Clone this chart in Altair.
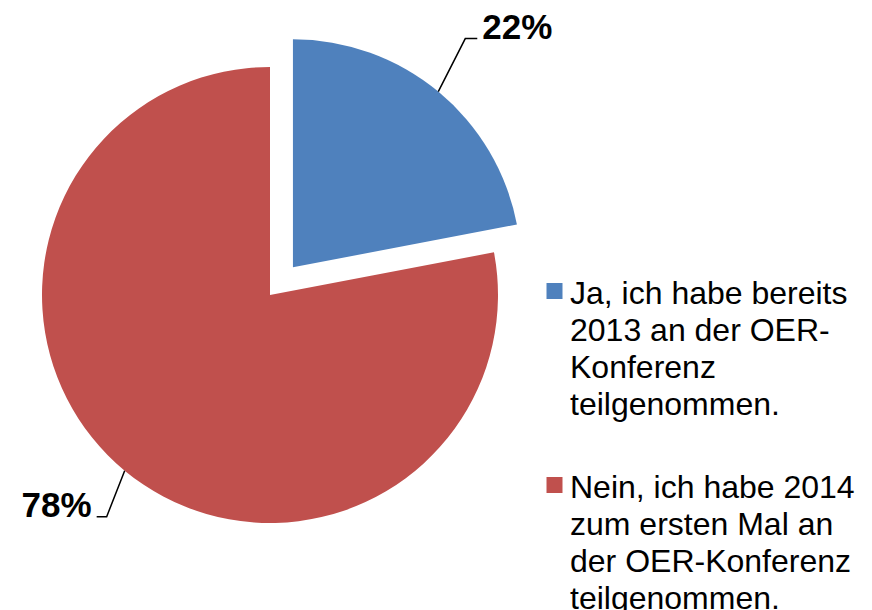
import math
import altair as alt
import pandas as pd

# ---- data ----
categories = ["Ja", "Nein"]
legend_lines = [
    ["Ja, ich habe bereits", "2013 an der OER-", "Konferenz", "teilgenommen."],
    ["Nein, ich habe 2014", "zum ersten Mal an", "der OER-Konferenz", "teilgenommen."],
]
values = [22, 78]
pct_labels = ["22%", "78%"]
colors = ["#4F81BD", "#C0504D"]

# ---- layout ----
W, H = 856, 602
CX, CY = 262, 287
R = 228
EXPLODE = [36, 0]
ELBOW = [(27, -53), (-18, 46)]
TAIL = [(12, 0), (-10, 0)]
LEG_X_SQ, LEG_X_TXT = 546.5, 562
LEG_TOP, LEG_STEP = 296, 194

total = sum(values)
rows, lines, labels, legend = [], [], [], []
acc = 0
for i, (c, v) in enumerate(zip(categories, values)):
    start = acc / total * 100
    end = (acc + v) / total * 100
    acc += v
    mid = (start + end) / 2 / 100 * 2 * math.pi
    cx = CX + EXPLODE[i] * math.sin(mid)
    cy = CY - EXPLODE[i] * math.cos(mid)
    rows.append(dict(category=c, start=start, end=end, cx=cx, cy=cy))
    ex = cx + R * math.sin(mid)
    ey = cy - R * math.cos(mid)
    bx, by = ex + ELBOW[i][0], ey + ELBOW[i][1]
    tx, ty = bx + TAIL[i][0], by + TAIL[i][1]
    for k, (px, py) in enumerate([(ex, ey), (bx, by), (tx, ty)]):
        lines.append(dict(category=c, k=k, x=px, y=py))
    side = "right" if TAIL[i][0] > 0 else "left"
    labels.append(dict(category=c, label=pct_labels[i],
                       x=tx + (5 if side == "right" else -5), y=ty, side=side))
    legend.append(dict(category=c, text="\n".join(legend_lines[i]),
                       xs=LEG_X_SQ, xt=LEG_X_TXT, y=LEG_TOP + i * LEG_STEP))

df = pd.DataFrame(rows)
ldf = pd.DataFrame(lines)
tdf = pd.DataFrame(labels)
gdf = pd.DataFrame(legend)

xs = alt.Scale(domain=[0, W], nice=False, zero=False)
ys = alt.Scale(domain=[0, H], nice=False, zero=False, reverse=True)
col = alt.Color("category:N", scale=alt.Scale(domain=categories, range=colors), legend=None)
FONT = "Liberation Sans"

arcs = alt.Chart(df).mark_arc(radius=R).encode(
    x=alt.X("cx:Q", scale=xs, axis=None),
    y=alt.Y("cy:Q", scale=ys, axis=None),
    theta=alt.Theta("start:Q", scale=alt.Scale(domain=[0, 100]), stack=None),
    theta2="end:Q",
    color=col,
)

leaders = alt.Chart(ldf).mark_line(color="black", strokeWidth=1.5).encode(
    x=alt.X("x:Q", scale=xs, axis=None),
    y=alt.Y("y:Q", scale=ys, axis=None),
    detail="category:N",
    order="k:Q",
)

lab_r = alt.Chart(tdf).transform_filter("datum.side == 'right'").mark_text(
    align="left", baseline="alphabetic", font=FONT, fontSize=35, fontWeight="bold", color="black"
).encode(x=alt.X("x:Q", scale=xs, axis=None), y=alt.Y("y:Q", scale=ys, axis=None), text="label:N")

lab_l = alt.Chart(tdf).transform_filter("datum.side == 'left'").mark_text(
    align="right", baseline="alphabetic", font=FONT, fontSize=35, fontWeight="bold", color="black"
).encode(x=alt.X("x:Q", scale=xs, axis=None), y=alt.Y("y:Q", scale=ys, axis=None), text="label:N")

leg_sq = alt.Chart(gdf).mark_square(size=256, opacity=1, yOffset=-13).encode(
    x=alt.X("xs:Q", scale=xs, axis=None), y=alt.Y("y:Q", scale=ys, axis=None), color=col
)

leg_txt = alt.Chart(gdf).mark_text(
    align="left", baseline="alphabetic", font=FONT, fontSize=32, lineHeight=37,
    lineBreak="\n", color="black"
).encode(x=alt.X("xt:Q", scale=xs, axis=None), y=alt.Y("y:Q", scale=ys, axis=None), text="text:N")

chart = alt.layer(arcs, leaders, lab_r, lab_l, leg_sq, leg_txt).properties(
    width=W, height=H, padding=0, autosize=alt.AutoSizeParams(type="none")
).configure_view(stroke=None)

chart.save("out.html", embed_options={"renderer": "svg", "actions": False})
